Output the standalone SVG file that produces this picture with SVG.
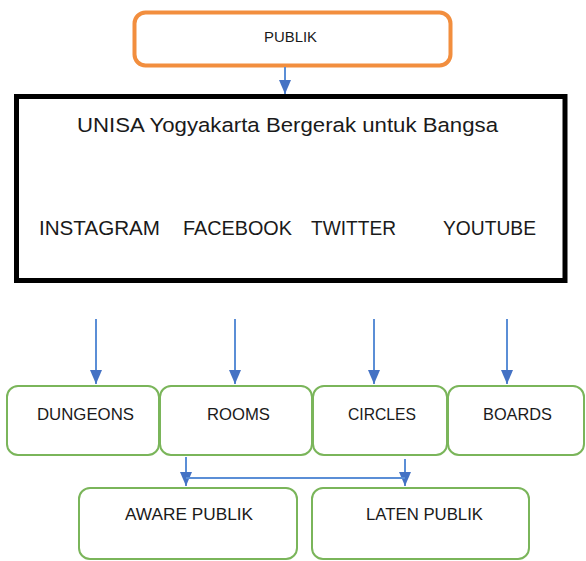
<svg xmlns="http://www.w3.org/2000/svg" width="586" height="561" viewBox="0 0 586 561">
<style>
  text { font-family: "Liberation Sans", Arial, sans-serif; fill: #1a1a1a; }
  .big { font-size: 20.5px; }
  .sm { font-size: 17px; }
  .g { fill: #ffffff; stroke: #7AB55A; stroke-width: 2; }
  .conn { stroke: #5B8ED6; stroke-width: 2; fill: none; }
</style>
<defs>
  <marker id="ahd" viewBox="0 0 14 12" refX="14" refY="6" markerWidth="14" markerHeight="12" markerUnits="userSpaceOnUse" orient="auto">
    <path d="M0,0 L14,6 L0,12 Z" fill="#4472C4"/>
  </marker>
</defs>

<g id="publik">
  <rect x="134.5" y="12.5" width="316" height="53" rx="11" fill="#ffffff" stroke="#F28E3E" stroke-width="4"/>
  <text x="264" y="42" font-size="14" textLength="53" lengthAdjust="spacingAndGlyphs">PUBLIK</text>
</g>

<g id="unisa">
  <rect x="16.5" y="96.5" width="548.5" height="184" fill="#ffffff" stroke="#000000" stroke-width="5"/>
  <text class="big" x="77" y="132" textLength="421" lengthAdjust="spacingAndGlyphs">UNISA Yogyakarta Bergerak untuk Bangsa</text>
  <text class="big" x="39" y="235" textLength="121" lengthAdjust="spacingAndGlyphs">INSTAGRAM</text>
  <text class="big" x="183" y="235" textLength="109" lengthAdjust="spacingAndGlyphs">FACEBOOK</text>
  <text class="big" x="311" y="235" textLength="85" lengthAdjust="spacingAndGlyphs">TWITTER</text>
  <text class="big" x="443" y="235" textLength="93" lengthAdjust="spacingAndGlyphs">YOUTUBE</text>
</g>

<g id="dungeons">
  <rect class="g" x="7" y="386" width="152" height="69" rx="11"/>
  <text class="sm" x="37" y="420" textLength="97" lengthAdjust="spacingAndGlyphs">DUNGEONS</text>
</g>
<g id="rooms">
  <rect class="g" x="160" y="386" width="152" height="69" rx="11"/>
  <text class="sm" x="207" y="420" textLength="63" lengthAdjust="spacingAndGlyphs">ROOMS</text>
</g>
<g id="circles">
  <rect class="g" x="313" y="386" width="134" height="69" rx="11"/>
  <text class="sm" x="348" y="420" textLength="68" lengthAdjust="spacingAndGlyphs">CIRCLES</text>
</g>
<g id="boards">
  <rect class="g" x="448" y="386" width="136" height="69" rx="11"/>
  <text class="sm" x="483" y="420" textLength="69" lengthAdjust="spacingAndGlyphs">BOARDS</text>
</g>

<g id="aware">
  <rect class="g" x="79" y="488" width="218" height="71" rx="11"/>
  <text class="sm" x="125" y="520" textLength="128" lengthAdjust="spacingAndGlyphs">AWARE PUBLIK</text>
</g>
<g id="laten">
  <rect class="g" x="312" y="488" width="217" height="71" rx="11"/>
  <text class="sm" x="366" y="520" textLength="117" lengthAdjust="spacingAndGlyphs">LATEN PUBLIK</text>
</g>

<g id="connectors">
  <line class="conn" x1="285" y1="67" x2="285" y2="94" marker-end="url(#ahd)"/>
  <line class="conn" x1="96" y1="319" x2="96" y2="384" marker-end="url(#ahd)"/>
  <line class="conn" x1="235" y1="319" x2="235" y2="384" marker-end="url(#ahd)"/>
  <line class="conn" x1="374" y1="319" x2="374" y2="384" marker-end="url(#ahd)"/>
  <line class="conn" x1="507" y1="319" x2="507" y2="384" marker-end="url(#ahd)"/>
  <line class="conn" x1="186" y1="457" x2="186" y2="486" marker-end="url(#ahd)"/>
  <line class="conn" x1="405" y1="459" x2="405" y2="486" marker-end="url(#ahd)"/>
  <line class="conn" x1="186" y1="478" x2="405" y2="478"/>
</g>
</svg>
